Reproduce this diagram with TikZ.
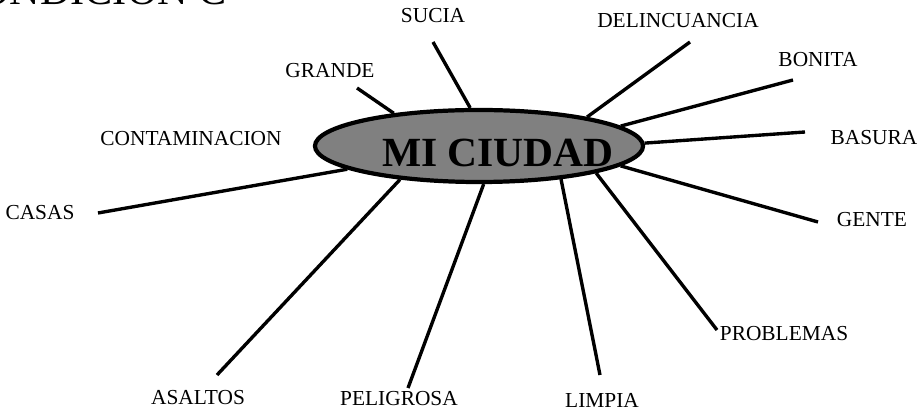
\documentclass[tikz,border=0pt]{standalone}
\usepackage{fontspec}
\setmainfont{Liberation Serif}
\usetikzlibrary{shapes,positioning}
\definecolor{cityfill}{RGB}{128,128,128}
\tikzstyle{word} = [inner sep=0pt, font=\fontsize{15.2}{18}\selectfont]
\tikzstyle{spoke} = [line width=2.4pt, black]
\tikzstyle{cityshape} = [ellipse, draw, line width=3pt, fill=cityfill, minimum width=8.2cm, minimum height=1.8cm, inner sep=0pt]

\begin{document}
\begin{tikzpicture}[x=0.025cm, y=-0.025cm]
\useasboundingbox (0,0) rectangle (920,411);

% Title, cut off at the edge
\node[anchor=base west, inner sep=0pt, font=\fontsize{30}{36}\selectfont] (title) at (-49,5) {CONDICION C};

% City in the middle
\node[cityshape] (city) at (479,146) {};
\node[inner sep=0pt, font=\fontsize{29.5}{34}\selectfont\bfseries] (citytext) at (498,153) {MI CIUDAD};

% Words around the city
\node[word] (sucia) at (433,16) {SUCIA};
\node[word] (grande) at (330,71) {GRANDE};
\node[word] (contam) at (191,139) {CONTAMINACION};
\node[word] (casas) at (40,213) {CASAS};
\node[word] (asaltos) at (198,398) {ASALTOS};
\node[word] (peligrosa) at (399,399) {PELIGROSA};
\node[word] (limpia) at (602,400) {LIMPIA};
\node[word] (problemas) at (784,334) {PROBLEMAS};
\node[word] (gente) at (872,220) {GENTE};
\node[word] (basura) at (874,138) {BASURA};
\node[word] (bonita) at (818,60) {BONITA};
\node[word] (delinc) at (678,21) {DELINCUANCIA};

% Free ends of the spokes
\coordinate (sucia-e) at (433,42);
\coordinate (grande-e) at (357,88);
\coordinate (casas-e) at (98,213);
\coordinate (asaltos-e) at (217,375);
\coordinate (peligrosa-e) at (408,388);
\coordinate (limpia-e) at (600,375);
\coordinate (problemas-e) at (717,330);
\coordinate (gente-e) at (818,222);
\coordinate (basura-e) at (805,132);
\coordinate (bonita-e) at (793,80);
\coordinate (delinc-e) at (690,42);

% Spokes
\draw[spoke] (sucia-e) -- (city.103.3);
\draw[spoke] (grande-e) -- (city.159.7);
\draw[spoke] (casas-e) -- (city.190.6);
\draw[spoke] (asaltos-e) -- (city.203.2);
\draw[spoke] (peligrosa-e) -- (city.-83.8);
\draw[spoke] (limpia-e) -- (city.-22.3);
\draw[spoke] (problemas-e) -- (city.-13.8);
\draw[spoke] (gente-e) -- (city.-8.6);
\draw[spoke] (basura-e) -- (city.1);
\draw[spoke] (bonita-e) -- (city.8.1);
\draw[spoke] (delinc-e) -- (city.15.6);
\end{tikzpicture}
\end{document}
